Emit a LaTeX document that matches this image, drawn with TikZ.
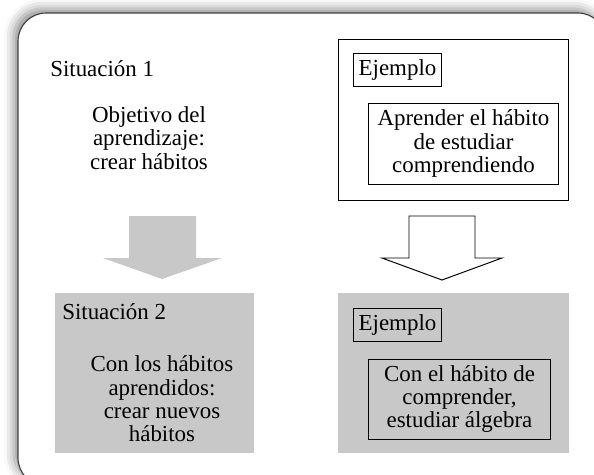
\documentclass[tikz,border=0pt]{standalone}
\usepackage{fontspec}
\setmainfont{Liberation Serif}
\usepackage{tikz}
\usetikzlibrary{positioning,shadows.blur}
\definecolor{boxgray}{RGB}{200,200,200}
\definecolor{framegray}{RGB}{64,64,64}

\begin{document}
\begin{tikzpicture}[
  x=0.025cm, y=-0.025cm,
  font=\fontsize{16.3}{16.6}\selectfont,
  frame/.style={draw=framegray,line width=0.8pt,rounded corners=20pt,fill=white,
    blur shadow={shadow xshift=-3pt,shadow yshift=3pt,shadow blur radius=7pt,shadow opacity=45}},
  plain/.style={align=center,inner sep=0pt},
  panel/.style={fill=boxgray,minimum width=141.5pt,minimum height=113.8pt,inner sep=0pt},
  outline/.style={draw,line width=0.7pt,inner sep=0pt},
  tag/.style={draw,line width=0.7pt,inner xsep=4pt,inner ysep=3pt,minimum height=22.8pt},
  textbox/.style={draw,line width=0.7pt,align=center,inner sep=3pt}
]
  \useasboundingbox (0,0) rectangle (594,475);
  \path[frame] (18,13) rectangle (606,486);

  \node[anchor=base west,inner sep=0pt] (sitone) at (50,76) {Situación 1};
  \node[plain] (goal) at (149,138) {Objetivo del\\aprendizaje:\\crear hábitos};

  \node[outline,minimum width=164.2pt,minimum height=114.5pt] (exone) at (453.5,119.5) {};
  \node[tag] (tagone) at (397.5,70) {Ejemplo};
  \node[textbox,minimum width=135.8pt,minimum height=57.6pt] (habit) at (463.5,143.5)
    {Aprender el hábito\\de estudiar\\comprendiendo};

  \fill[boxgray] (129,216) -- (196,216) -- (196,258) -- (222,258) -- (162,279)
    -- (103,258) -- (129,258) -- cycle;
  \draw[line width=0.7pt,fill=white] (409,216) -- (475,216) -- (475,258) -- (502,258)
    -- (442,280) -- (382,258) -- (409,258) -- cycle;

  \node[panel] (sittwo) at (154.5,373) {};
  \node[anchor=base west,inner sep=0pt] (sittwolabel) at (62,319) {Situación 2};
  \node[plain] (newhabits) at (162,399) {Con los hábitos\\aprendidos:\\crear nuevos\\hábitos};

  \node[panel,minimum width=164.2pt] (extwo) at (453.5,373) {};
  \node[tag] (tagtwo) at (397.5,325) {Ejemplo};
  \node[textbox,minimum width=130.1pt,minimum height=56.9pt] (algebra) at (459.5,399)
    {Con el hábito de\\comprender,\\estudiar álgebra};
\end{tikzpicture}
\end{document}
